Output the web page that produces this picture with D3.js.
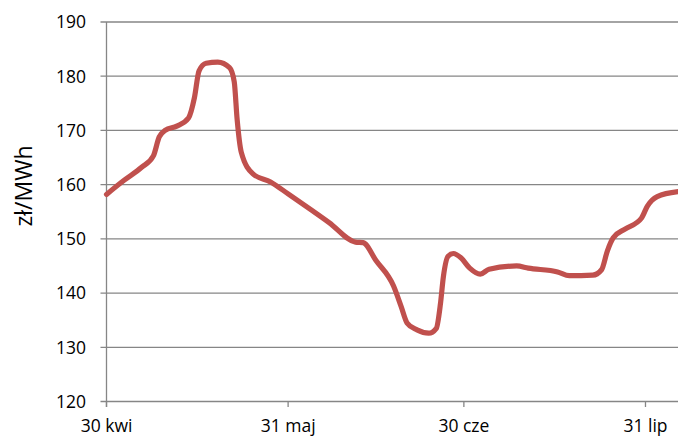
<!DOCTYPE html>
<html><head><meta charset="utf-8">
<script src="https://cdn.jsdelivr.net/npm/d3@7"></script>
<style>body{margin:0;background:#fff}svg{display:block}text{font-family:"Open Sans",sans-serif;fill:#000}</style>
</head><body><svg id="c" width="678" height="437"></svg>
<script>
// Day offsets from 30 April, with prices (zł/MWh)
const dayOffsets = [0,3,6,8,9,10,12,14,15,15.8,17,19,21,21.8,22.3,23,25,28,31,35,38,42.5,43.8,46,49,50.3,51.3,53,55,56.3,57,57.5,58.3,59.2,60.5,62,63.8,65.3,70,72,77,79,83,84.5,85.5,86.5,88.5,91.3,92.3,94,97.6];
const prices = [158.2,160.8,163.2,165.3,168.8,170.0,170.8,172.3,176,181,182.4,182.6,181.6,179,172,166,162,160.5,158.3,155.3,153,149.4,149.3,146,141.3,137.5,134.5,133.2,132.6,133.5,138,143,146.8,147.3,146.5,144.6,143.5,144.4,145,144.6,143.9,143.2,143.3,144.3,147.8,150.2,151.8,153.8,156,157.8,158.7];
const yTicks = [120,130,140,150,160,170,180,190];
const xTickDates = ["2012-04-30","2012-05-31","2012-06-30","2012-07-31"];
const monthNames = ["sty","lut","mar","kwi","maj","cze","lip","sie","wrz","paź","lis","gru"];
const yTitle = "zł/MWh";

const base = new Date(2012,3,30);
const dayMs = 86400000;
const data = dayOffsets.map((d,i)=>({date:new Date(base.getTime()+d*dayMs), v:prices[i]}));

const svg = d3.select("#c");
const L=106.5, R=678, T=22, B=401.5;
const x = d3.scaleTime().domain([base, new Date(base.getTime()+97.55*dayMs)]).range([L,R]);
const y = d3.scaleLinear().domain([120,190]).range([B,T]);
const grey="#868686";

// gridlines
svg.append("g").selectAll("line").data(yTicks).join("line")
  .attr("x1",L-6).attr("x2",R).attr("y1",d=>y(d)).attr("y2",d=>y(d))
  .attr("stroke",grey).attr("stroke-width",1.3);

// y axis line
svg.append("line").attr("x1",L).attr("x2",L).attr("y1",T).attr("y2",B+5.5).attr("stroke",grey).attr("stroke-width",1.3);

// y labels
svg.append("g").selectAll("text").data(yTicks).join("text")
  .attr("x",86).attr("y",d=>y(d)).attr("dy","0.36em").attr("text-anchor","end")
  .style("font-size","17.5px").text(d=>d);

// x ticks
const xt = xTickDates.map(s=>{const [a,b,c]=s.split("-").map(Number);return new Date(a,b-1,c);});
svg.append("g").selectAll("line").data(xt).join("line")
  .attr("x1",d=>x(d)).attr("x2",d=>x(d)).attr("y1",B).attr("y2",B+5.5)
  .attr("stroke",grey).attr("stroke-width",1.3);
svg.append("g").selectAll("text").data(xt).join("text")
  .attr("x",d=>x(d)).attr("y",432).attr("text-anchor","middle")
  .style("font-size","17.5px").text(d=>d.getDate()+" "+monthNames[d.getMonth()]);

// y title
svg.append("text").attr("transform","translate(32,186) rotate(-90)").attr("text-anchor","middle")
  .style("font-size","23px").text(yTitle);

// line
const line = d3.line().x(d=>x(d.date)).y(d=>y(d.v)).curve(d3.curveMonotoneX);
svg.append("path").datum(data).attr("d",line).attr("fill","none")
  .attr("stroke","#C0504D").attr("stroke-width",5.2).attr("stroke-linejoin","round").attr("stroke-linecap","round");
</script></body></html>
